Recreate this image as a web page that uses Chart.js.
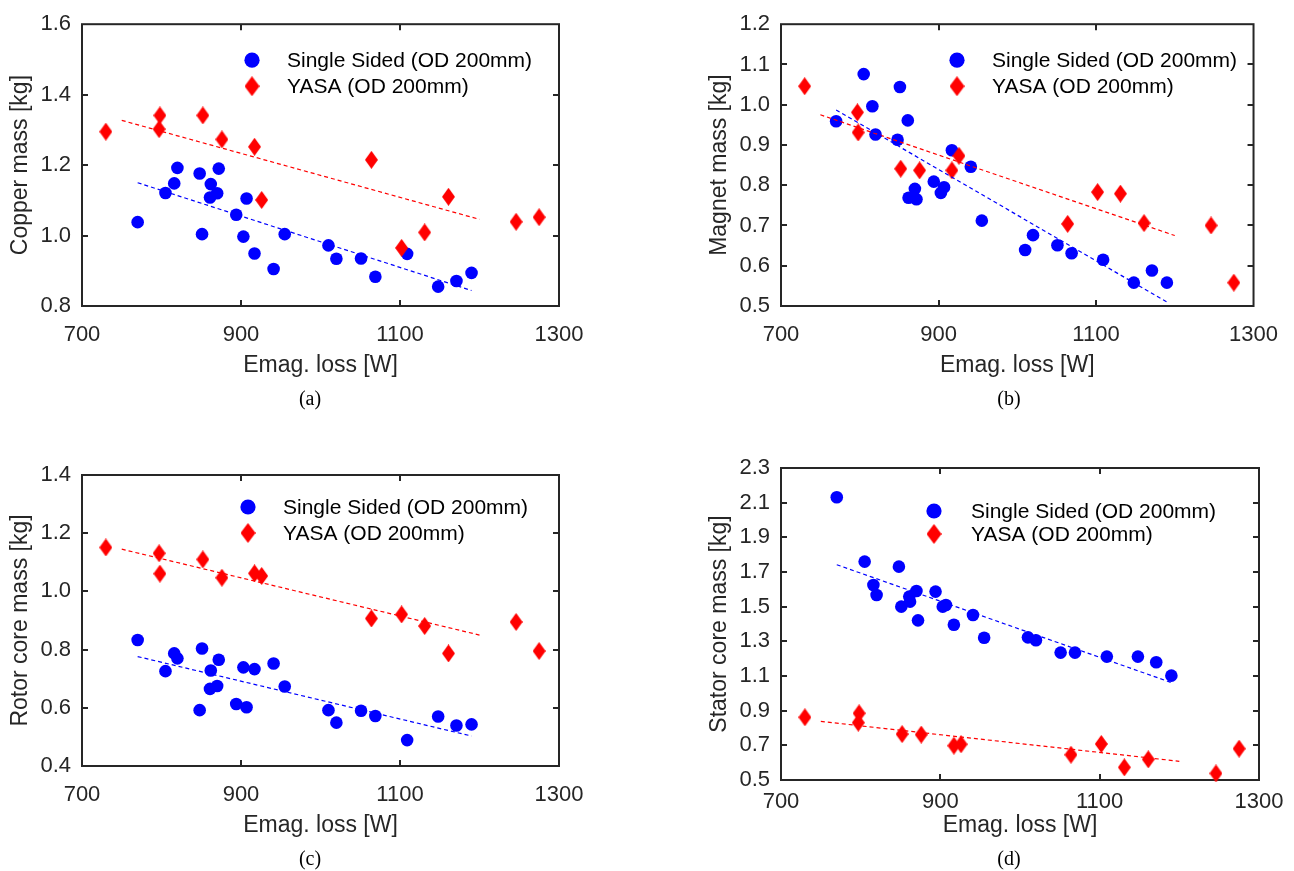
<!DOCTYPE html>
<html><head><meta charset="utf-8">
<script src="https://cdn.jsdelivr.net/npm/chart.js@4.4.0/dist/chart.umd.min.js"></script>
<style>
html,body{margin:0;padding:0;background:#fff;}
#wrap{position:relative;width:1294px;height:871px;overflow:hidden;background:#fff;}
.pane{position:absolute;}
.cap{position:absolute;font-family:"Liberation Serif","Times New Roman",serif;font-size:20px;line-height:22px;color:#000;transform:translateX(-50%);white-space:nowrap;}
</style></head><body>
<div id="wrap">
  <div class="pane" style="left:0px;top:0px;"><canvas id="ca" width="647" height="430"></canvas></div>
  <div class="pane" style="left:699px;top:0px;"><canvas id="cb" width="595" height="430"></canvas></div>
  <div class="pane" style="left:0px;top:435px;"><canvas id="cc" width="647" height="436"></canvas></div>
  <div class="pane" style="left:699px;top:435px;"><canvas id="cd" width="595" height="436"></canvas></div>
  <div class="cap" style="left:310px;top:387px;">(a)</div>
  <div class="cap" style="left:1009px;top:387px;">(b)</div>
  <div class="cap" style="left:310px;top:847px;">(c)</div>
  <div class="cap" style="left:1009px;top:847px;">(d)</div>
</div>
<script>
// ---------------- data ----------------
const seriesNames = ['Single Sided (OD 200mm)', 'YASA (OD 200mm)'];
const xTitle = 'Emag. loss [W]';
const xTicks = [700, 900, 1100, 1300];

// Emag. loss [W] for each design
const lossSS   = [770, 805, 816, 820, 848, 851, 861, 862, 870, 872, 894, 903, 907, 917, 941, 955, 1010, 1020, 1051, 1069, 1109, 1148, 1171, 1190];
const lossYASA = [730, 797, 798, 852, 876, 917, 926, 1064, 1102, 1131, 1161, 1246, 1275];

// (a) copper mass [kg]
const copperSS   = [1.038, 1.121, 1.148, 1.192, 1.176, 1.004, 1.108, 1.146, 1.120, 1.190, 1.059, 0.997, 1.105, 0.949, 0.905, 1.004, 0.972, 0.934, 0.935, 0.883, 0.948, 0.855, 0.871, 0.894];
const copperYASA = [1.295, 1.302, 1.341, 1.341, 1.273, 1.252, 1.101, 1.215, 0.965, 1.009, 1.110, 1.039, 1.052];
// (b) magnet mass [kg]
const magnetSS   = [0.959, 1.076, 0.996, 0.926, 0.913, 1.044, 0.961, 0.769, 0.791, 0.765, 0.809, 0.781, 0.795, 0.887, 0.846, 0.712, 0.639, 0.676, 0.651, 0.631, 0.615, 0.558, 0.588, 0.558];
const magnetYASA = [1.046, 0.981, 0.931, 0.841, 0.837, 0.837, 0.873, 0.704, 0.783, 0.779, 0.706, 0.700, 0.558];
// (c) rotor core mass [kg]
const rotorSS    = [0.833, 0.726, 0.787, 0.770, 0.592, 0.804, 0.665, 0.728, 0.675, 0.765, 0.613, 0.739, 0.602, 0.733, 0.752, 0.673, 0.592, 0.549, 0.590, 0.572, 0.489, 0.570, 0.539, 0.543];
const rotorYASA  = [1.151, 1.131, 1.061, 1.110, 1.047, 1.062, 1.053, 0.907, 0.921, 0.881, 0.787, 0.895, 0.795];
// (d) stator core mass [kg]
const statorSS   = [2.131, 1.760, 1.625, 1.567, 1.731, 1.500, 1.558, 1.529, 1.590, 1.421, 1.587, 1.500, 1.510, 1.396, 1.452, 1.321, 1.323, 1.306, 1.235, 1.235, 1.212, 1.212, 1.179, 1.102];
const statorYASA = [0.862, 0.831, 0.885, 0.765, 0.762, 0.698, 0.706, 0.646, 0.708, 0.573, 0.619, 0.538, 0.681];

// linear trend lines (end points)
const trendLossSS   = [770, 1190];
const trendLossYASA = [750, 1200];
const copperTrendSS   = [1.150, 0.844];
const copperTrendYASA = [1.327, 1.046];
const magnetTrendSS   = [0.987, 0.510];
const magnetTrendYASA = [0.975, 0.675];
const rotorTrendSS    = [0.776, 0.503];
const rotorTrendYASA  = [1.145, 0.850];
const statorTrendSS   = [1.742, 1.062];
const statorTrendYASA = [0.838, 0.608];

// y tick labels
const copperTicks = [0.8, 1.0, 1.2, 1.4, 1.6];
const magnetTicks = [0.5, 0.6, 0.7, 0.8, 0.9, 1.0, 1.1, 1.2];
const rotorTicks  = [0.4, 0.6, 0.8, 1.0, 1.2, 1.4];
const statorTicks = [0.5, 0.7, 0.9, 1.1, 1.3, 1.5, 1.7, 1.9, 2.1, 2.3];

const yTitles = ['Copper mass [kg]', 'Magnet mass [kg]', 'Rotor core mass [kg]', 'Stator core mass [kg]'];

// ---------------- styling / helpers ----------------
const FONT = '"Liberation Sans", Arial, Helvetica, sans-serif';
const AXIS = '#262626';
const BLUE = '#0000ff';
const RED = '#ff0000';
Chart.defaults.font.family = FONT;
Chart.defaults.color = AXIS;

function makeDiamond(w, h, color) {
  const c = document.createElement('canvas');
  c.width = w; c.height = h;
  const g = c.getContext('2d');
  g.fillStyle = color;
  g.beginPath();
  g.moveTo(w / 2, 0); g.lineTo(w, h / 2); g.lineTo(w / 2, h); g.lineTo(0, h / 2);
  g.closePath(); g.fill();
  return c;
}
const diamondData = makeDiamond(13, 18, RED);
const diamondLegend = makeDiamond(15, 20, RED);

const pts = (xs, ys) => xs.map((x, i) => ({x: x, y: ys[i]}));

const framePlugin = {
  id: 'frame',
  beforeDatasetsDraw(chart) {
    const {ctx, chartArea: a, scales} = chart;
    ctx.save();
    ctx.strokeStyle = AXIS;
    ctx.lineWidth = 2;
    const L = 6;
    ctx.beginPath();
    scales.x.ticks.forEach(t => {
      const px = Math.round(scales.x.getPixelForValue(t.value));
      if (px <= a.left + 1 || px >= a.right - 1) return;
      ctx.moveTo(px, a.bottom); ctx.lineTo(px, a.bottom - L);
      ctx.moveTo(px, a.top); ctx.lineTo(px, a.top + L);
    });
    scales.y.ticks.forEach(t => {
      const py = Math.round(scales.y.getPixelForValue(t.value));
      if (py <= a.top + 1 || py >= a.bottom - 1) return;
      ctx.moveTo(a.left, py); ctx.lineTo(a.left + L, py);
      ctx.moveTo(a.right, py); ctx.lineTo(a.right - L, py);
    });
    ctx.stroke();
    ctx.strokeRect(a.left, a.top, a.right - a.left, a.bottom - a.top);
    ctx.restore();
  }
};

const legendPlugin = {
  id: 'innerLegend',
  afterDatasetsDraw(chart, args, opts) {
    const {ctx, chartArea: a} = chart;
    ctx.save();
    ctx.font = '21px ' + FONT;
    ctx.textBaseline = 'middle';
    ctx.textAlign = 'left';
    opts.items.forEach(it => {
      const ds = chart.data.datasets[it.index];
      const x = a.left + opts.markerX, y = a.top + it.y;
      ctx.fillStyle = ds.backgroundColor;
      Chart.helpers.drawPoint(ctx, {pointStyle: it.style, radius: it.radius, rotation: 0, borderWidth: 0}, x, y);
      ctx.fillStyle = '#000';
      ctx.fillText(ds.label, a.left + opts.textX, y + 1);
    });
    ctx.restore();
  }
};

const panels = [
  {id: 'ca', title: yTitles[0], ss: copperSS, ya: copperYASA, tss: copperTrendSS, tya: copperTrendYASA, yTicks: copperTicks,
   pad: {left: 0, top: 15, right: 88, bottom: 51}, xH: 73, xPad: 16, legend: {markerX: 170, textX: 205, y1: 36, y2: 62}},
  {id: 'cb', title: yTitles[1], ss: magnetSS, ya: magnetYASA, tss: magnetTrendSS, tya: magnetTrendYASA, yTicks: magnetTicks,
   pad: {left: 0, top: 15, right: 35, bottom: 51}, xH: 73, xPad: 16, legend: {markerX: 176, textX: 211, y1: 36, y2: 62}},
  {id: 'cc', title: yTitles[2], ss: rotorSS, ya: rotorYASA, tss: rotorTrendSS, tya: rotorTrendYASA, yTicks: rotorTicks,
   pad: {left: 0, top: 40, right: 88, bottom: 32}, xH: 73, xPad: 16, legend: {markerX: 166, textX: 201, y1: 32, y2: 58}},
  {id: 'cd', title: yTitles[3], ss: statorSS, ya: statorYASA, tss: statorTrendSS, tya: statorTrendYASA, yTicks: statorTicks,
   pad: {left: 0, top: 33, right: 35, bottom: 32}, xH: 59, xPad: 9, legend: {markerX: 153, textX: 190, y1: 43, y2: 66}}
];

panels.forEach(p => {
  const yT = p.yTicks;
  new Chart(document.getElementById(p.id), {
    type: 'scatter',
    data: {
      datasets: [
        {label: 'trendSS', data: pts(trendLossSS, p.tss), showLine: true, borderColor: BLUE, borderWidth: 1.2, borderDash: [4, 3], pointRadius: 0, order: 0},
        {label: 'trendYASA', data: pts(trendLossYASA, p.tya), showLine: true, borderColor: RED, borderWidth: 1.2, borderDash: [4, 3], pointRadius: 0, order: 0},
        {label: seriesNames[1], data: pts(lossYASA, p.ya), backgroundColor: RED, borderWidth: 0, pointStyle: diamondData, pointRadius: 8, clip: false, order: 1},
        {label: seriesNames[0], data: pts(lossSS, p.ss), backgroundColor: BLUE, borderWidth: 0, pointStyle: 'circle', pointRadius: 6.3, clip: false, order: 2}
      ]
    },
    options: {
      responsive: false,
      animation: false,
      events: [],
      layout: {padding: p.pad},
      plugins: {
        legend: {display: false},
        tooltip: {enabled: false},
        innerLegend: {markerX: p.legend.markerX, textX: p.legend.textX, items: [
          {index: 3, y: p.legend.y1, style: 'circle', radius: 7.6},
          {index: 2, y: p.legend.y2, style: diamondLegend, radius: 8}
        ]}
      },
      scales: {
        x: {
          type: 'linear', min: xTicks[0], max: xTicks[xTicks.length - 1],
          afterBuildTicks: s => { s.ticks = xTicks.map(v => ({value: v})); },
          afterFit: s => { s.height = p.xH; },
          grid: {display: false, drawTicks: false},
          border: {display: false},
          ticks: {font: {size: 22}, color: AXIS, padding: p.xPad, maxRotation: 0, autoSkip: false, callback: v => String(v)},
          title: {display: true, text: xTitle, font: {size: 23}, color: AXIS, padding: {top: 0, bottom: 0}}
        },
        y: {
          type: 'linear', min: yT[0], max: yT[yT.length - 1],
          afterBuildTicks: s => { s.ticks = yT.map(v => ({value: v})); },
          afterFit: s => { s.width = 82; },
          grid: {display: false, drawTicks: false},
          border: {display: false},
          ticks: {font: {size: 22}, color: AXIS, padding: 11, autoSkip: false, callback: v => Number(v).toFixed(1)},
          title: {display: true, text: p.title, font: {size: 23}, color: AXIS, padding: {top: 7, bottom: 0}}
        }
      }
    },
    plugins: [framePlugin, legendPlugin]
  });
});
</script>
</body></html>
